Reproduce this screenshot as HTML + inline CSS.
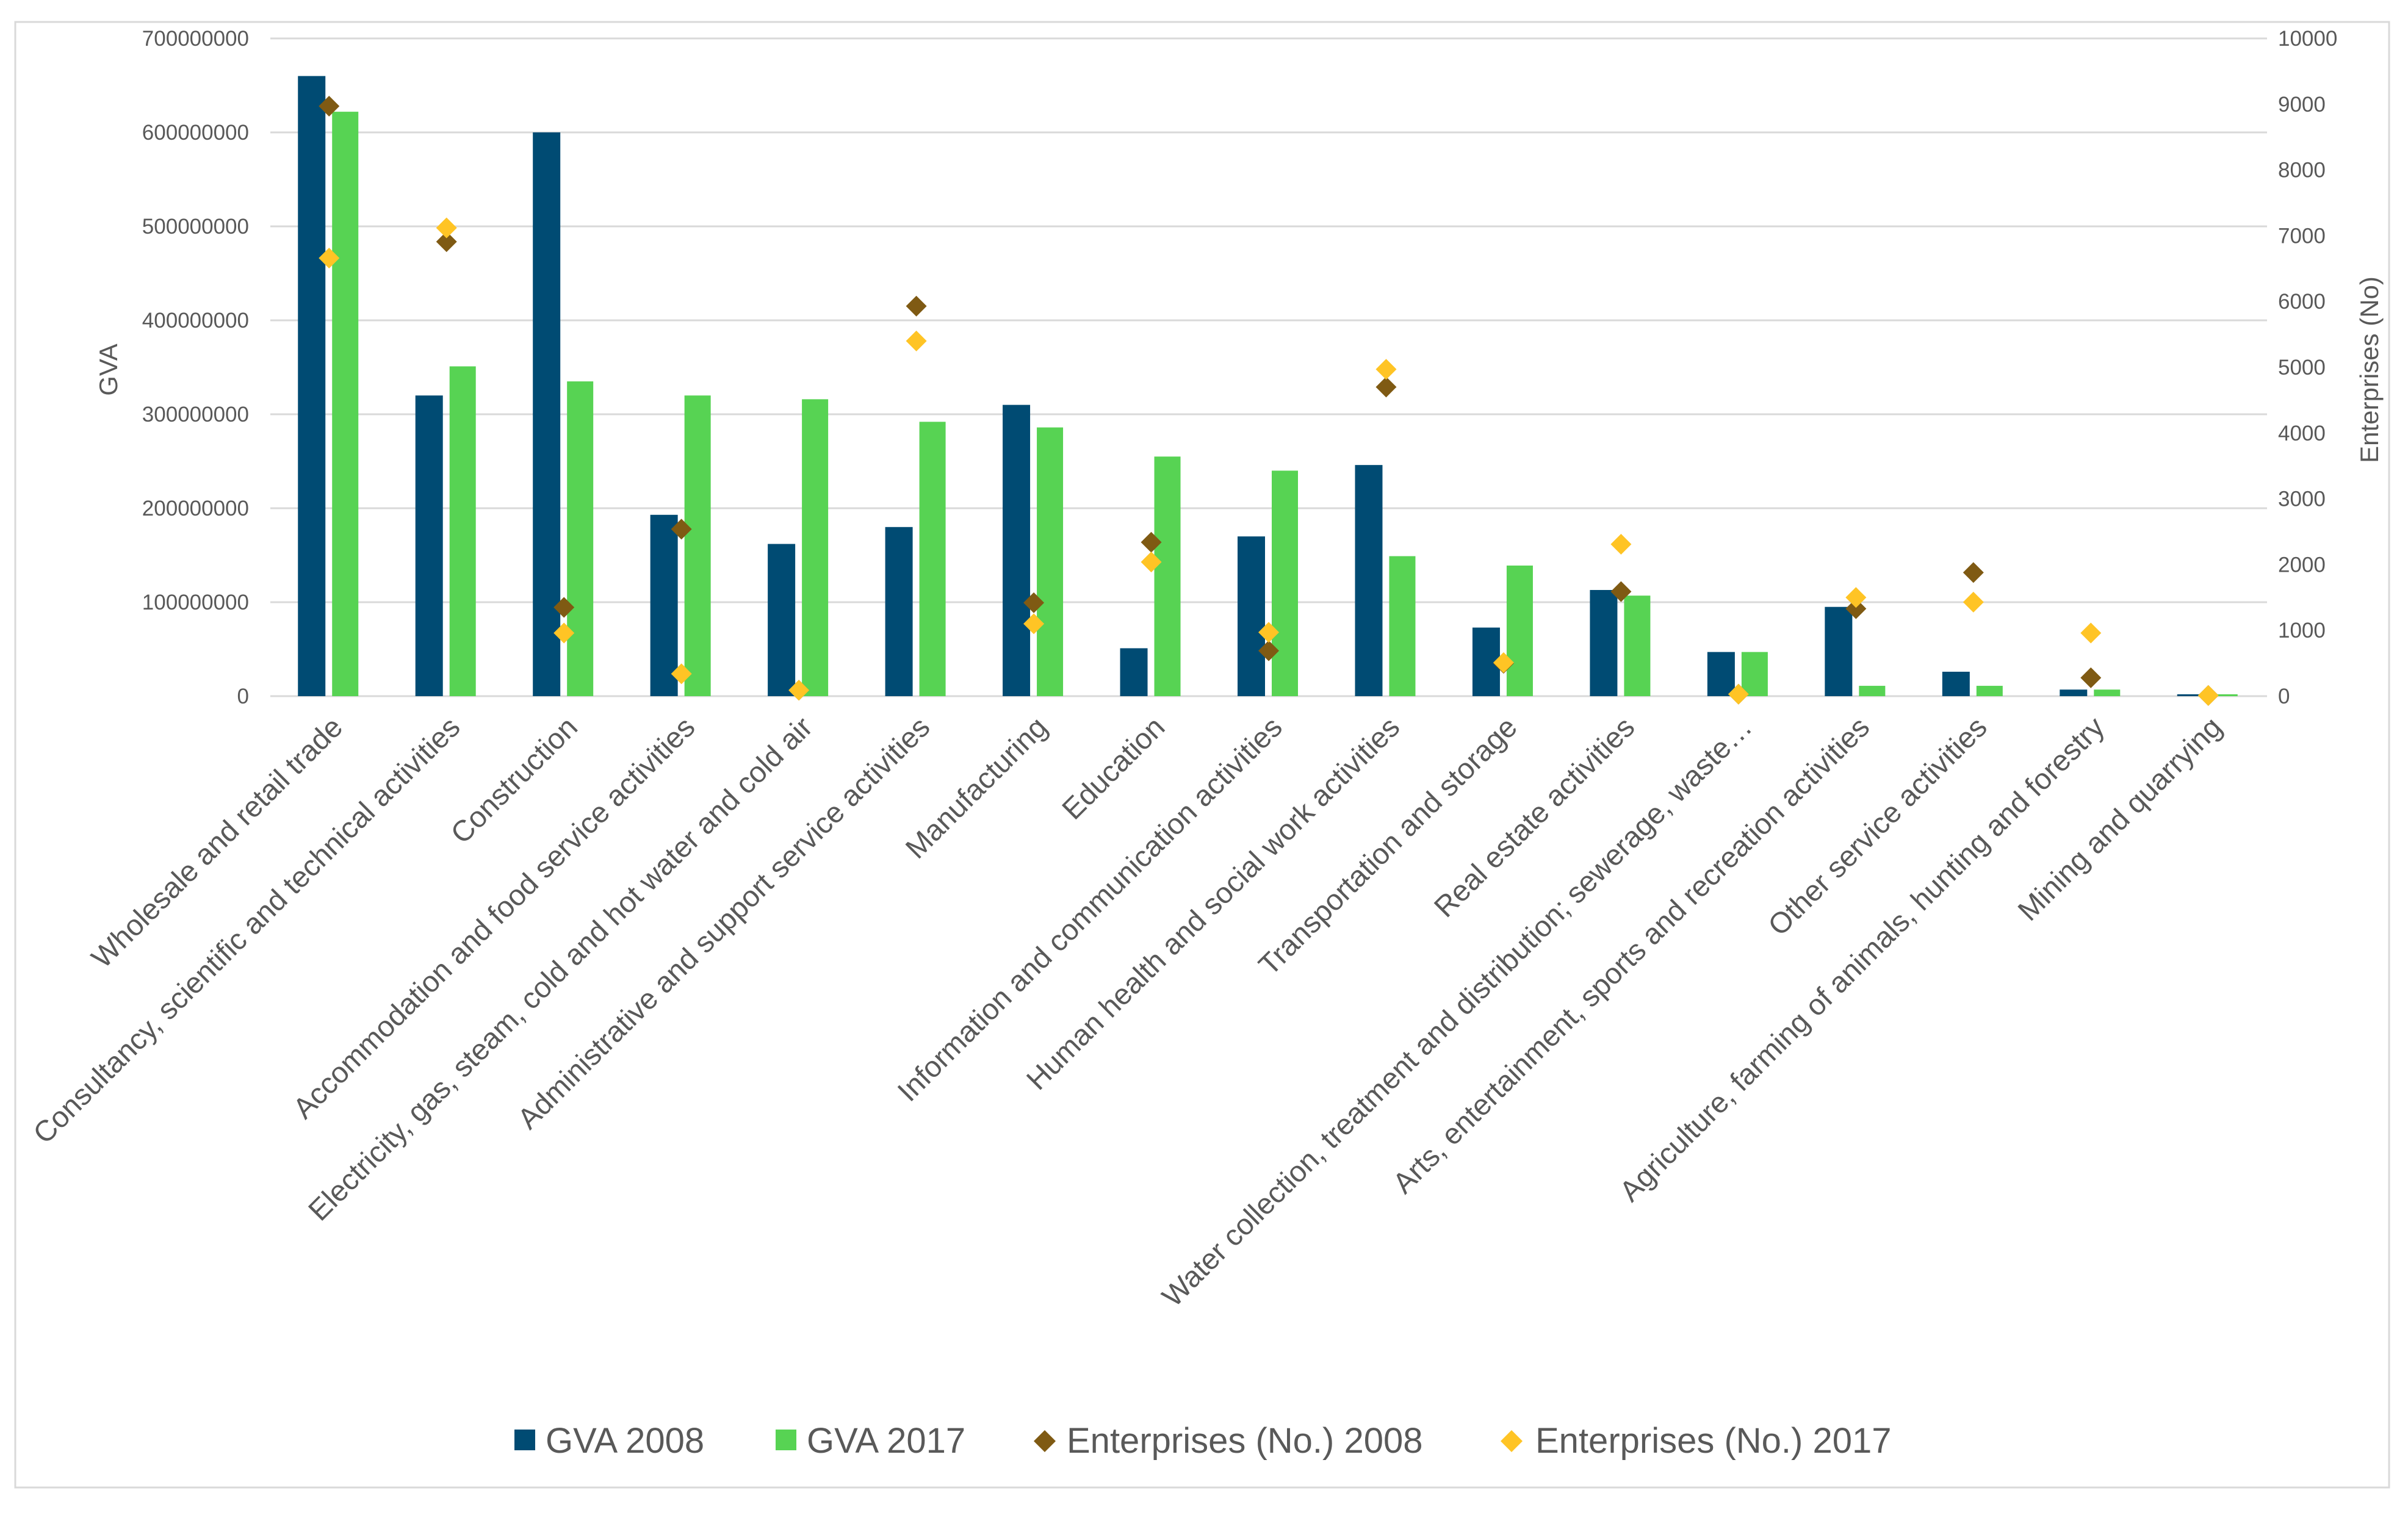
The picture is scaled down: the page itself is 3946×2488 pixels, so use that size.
<!DOCTYPE html>
<html><head><meta charset="utf-8"><style>
body{margin:0;background:#fff}
svg{display:block;font-family:"Liberation Sans",sans-serif}
</style></head><body>
<svg id="chart" width="3946" height="2488" viewBox="0 0 3946 2488" xmlns="http://www.w3.org/2000/svg">
<rect x="25" y="36" width="3890" height="2402" fill="#fff" stroke="#d9d9d9" stroke-width="3"/>
<g id="grid"></g><g id="bars"></g><g id="marks"></g><g id="labels"></g>
<text transform="translate(192,606) rotate(-90)" text-anchor="middle" font-size="42" fill="#595959">GVA</text>
<text transform="translate(3897,606) rotate(-90)" text-anchor="middle" font-size="42" fill="#595959">Enterprises (No)</text>
<g font-size="58" fill="#595959">
<rect x="843" y="2343" width="34" height="34" fill="#004B73"/>
<text x="894" y="2381">GVA 2008</text>
<rect x="1271" y="2343" width="34" height="34" fill="#57D353"/>
<text x="1322" y="2381">GVA 2017</text>
<path d="M1712 2344 L1730 2362 L1712 2380 L1694 2362 Z" fill="#7F5A13"/>
<text x="1748" y="2381">Enterprises (No.) 2008</text>
<path d="M2477 2344 L2495 2362 L2477 2380 L2459 2362 Z" fill="#FFC425"/>
<text x="2516" y="2381">Enterprises (No.) 2017</text>
</g>
</svg>
<script>
const categories=["Wholesale and retail trade","Consultancy, scientific and technical activities","Construction","Accommodation and food service activities","Electricity, gas, steam, cold and hot water and cold air","Administrative and support service activities","Manufacturing","Education","Information and communication activities","Human health and social work activities","Transportation and storage","Real estate activities","Water collection, treatment and distribution; sewerage, waste…","Arts, entertainment, sports and recreation activities","Other service activities","Agriculture, farming of animals, hunting and forestry","Mining and quarrying"];
const gva2008=[660e6,320e6,600e6,193e6,162e6,180e6,310e6,51e6,170e6,246e6,73e6,113e6,47e6,95e6,26e6,7e6,2e6];
const gva2017=[622e6,351e6,335e6,320e6,316e6,292e6,286e6,255e6,240e6,149e6,139e6,107e6,47e6,11e6,11e6,7e6,2e6];
const ent2008=[8970,6910,1350,2540,90,5930,1420,2340,690,4700,500,1590,30,1330,1880,280,10];
const ent2017=[6660,7120,960,340,90,5400,1100,2040,970,4970,510,2310,30,1500,1430,960,10];
const leftTicks=[0,100000000,200000000,300000000,400000000,500000000,600000000,700000000];
const rightTicks=[0,1000,2000,3000,4000,5000,6000,7000,8000,9000,10000];
const NS="http://www.w3.org/2000/svg";
const L=443,R=3715,T=63,B=1141;
const bw=(R-L)/categories.length;
const yL=v=>B-(v/700e6)*(B-T);
const yR=v=>B-(v/10000)*(B-T);
const xc=i=>L+(i+0.5)*bw;
function mk(tag,parent,attrs){const e=document.createElementNS(NS,tag);for(const k in attrs)e.setAttribute(k,attrs[k]);parent.appendChild(e);return e;}
const grid=document.getElementById('grid'),bars=document.getElementById('bars'),marks=document.getElementById('marks'),labels=document.getElementById('labels');
leftTicks.forEach(t=>{
 const l=mk('line',grid,{x1:L,x2:R,y1:yL(t),y2:yL(t),stroke:'#d9d9d9','stroke-width':3});
 
 
 const tx=mk('text',grid,{x:408,y:yL(t)+12,'text-anchor':'end','font-size':35,fill:'#595959'});
 tx.textContent=t;
 
 
});
rightTicks.forEach(t=>{
 const tx=mk('text',grid,{x:3733,y:yR(t)+12,'text-anchor':'start','font-size':35,fill:'#595959'});
 tx.textContent=t;
 
 
});
function diamond(cx,cy,fill){const s=17;return mk('path',marks,{d:`M${cx} ${cy-s} L${cx+s} ${cy} L${cx} ${cy+s} L${cx-s} ${cy} Z`,fill:fill});}
categories.forEach((c,i)=>{
 const x=xc(i);
 const b1=mk('rect',bars,{x:x-51,y:yL(gva2008[i]),width:45,height:B-yL(gva2008[i]),fill:'#004B73'});
 
 
 const b2=mk('rect',bars,{x:x+5,y:yL(gva2017[i]),width:43,height:B-yL(gva2017[i]),fill:'#57D353'});
 
 
 const d1=diamond(x,yR(ent2008[i]),'#7F5A13');
 
 
 const d2=diamond(x,yR(ent2017[i]),'#FFC425');
 
 
 const tx=mk('text',labels,{transform:`translate(${x+25},1195) rotate(-45)`,'text-anchor':'end','font-size':48,fill:'#595959'});
 tx.textContent=c;
 
 
});
</script>
</body></html>
